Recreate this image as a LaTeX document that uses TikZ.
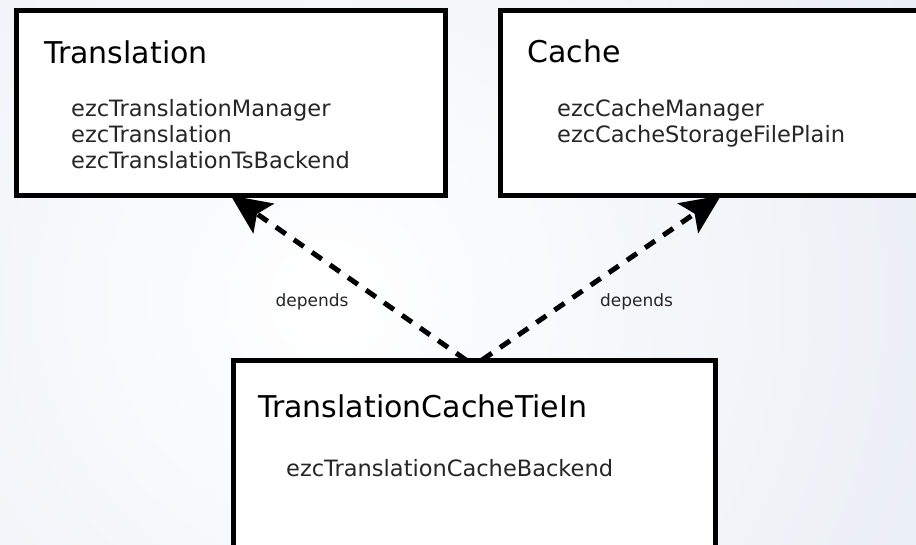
\documentclass[tikz,border=0pt]{standalone}
\usepackage{fontspec}
\setmainfont{DejaVu Sans}
\usetikzlibrary{arrows.meta,calc}
\pgfdeclarelayer{back}
\pgfdeclarelayer{conn}
\pgfsetlayers{back,conn,main}
\definecolor{bgblue}{HTML}{E2E9F2}
\tikzset{
  pkg/.style={draw=black, line width=5pt, fill=white, rectangle, inner sep=0pt, outer sep=0pt, anchor=north west},
  ptitle/.style={anchor=base west, inner sep=0pt, font=\fontsize{30}{36}\selectfont},
  pitem/.style={anchor=base west, inner sep=0pt, font=\fontsize{22.5}{26}\selectfont, text=black!85},
  dep/.style={line width=5pt, dash pattern=on 12pt off 10pt, -{Stealth[length=40pt,width=36pt,inset=8pt]}},
  deplabel/.style={font=\fontsize{17}{20}\selectfont, inner sep=0pt, text=black!85}
}
\begin{document}
\begin{tikzpicture}[x=1pt,y=-1pt]
\useasboundingbox (0,0) rectangle (916,544);
\clip (0,0) rectangle (916,544);
\begin{pgfonlayer}{back}
\fill[bgblue] (0,0) rectangle (916,544);
\shade[inner color=white, outer color=bgblue] (330,300) circle (900);
\end{pgfonlayer}

\node[pkg, minimum width=429.5pt, minimum height=185pt] (trans) at (16,10.5) {};
\node[pkg, minimum width=442pt, minimum height=185pt] (cache) at (500,10.5) {};
\node[pkg, minimum width=482pt, minimum height=260pt] (tie) at (233,360) {};

\node[ptitle] (transT) at (44,63) {Translation};
\node[pitem] (trans1) at (71,116) {ezcTranslationManager};
\node[pitem] (trans2) at (71,142) {ezcTranslation};
\node[pitem] (trans3) at (71,168) {ezcTranslationTsBackend};

\node[ptitle] (cacheT) at (527,62) {Cache};
\node[pitem] (cache1) at (557,116) {ezcCacheManager};
\node[pitem] (cache2) at (557,142) {ezcCacheStorageFilePlain};

\node[ptitle] (tieT) at (258,417) {TranslationCacheTieIn};
\node[pitem] (tie1) at (286,476) {ezcTranslationCacheBackend};

\begin{pgfonlayer}{conn}
\draw[dep] ([xshift=-8pt]tie.north) -- (trans.south);
\draw[dep] ([xshift=8pt]tie.north) -- (cache.south);
\end{pgfonlayer}

\node[deplabel] (dl1) at (312,302) {depends};
\node[deplabel] (dl2) at (636.5,302) {depends};
\end{tikzpicture}
\end{document}
